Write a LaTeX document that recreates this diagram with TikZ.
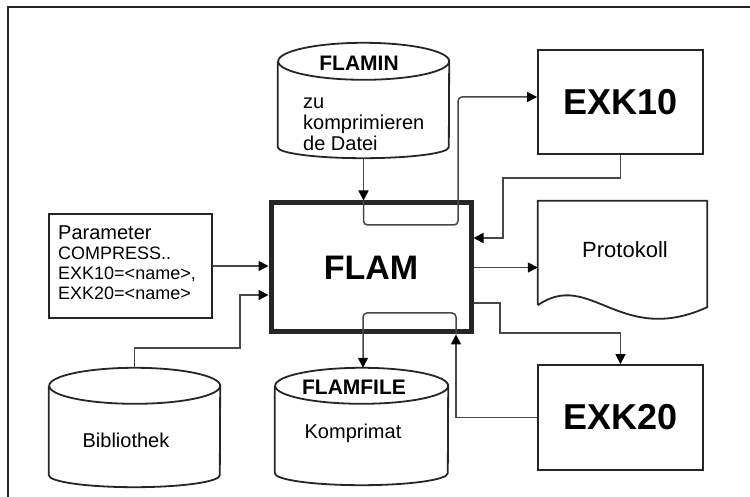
\documentclass[tikz,border=0pt]{standalone}
\usepackage{fontspec}
\setmainfont{Liberation Sans}
\usetikzlibrary{arrows.meta,positioning,calc}

% cylinder round a store node: node, half width, top radius, bottom radius
\newcommand{\drum}[4]{%
  \draw[boxline] ([yshift=-#3]#1.north west) -- ([yshift=#4]#1.south west)
    arc[start angle=180, end angle=360, x radius=#2, y radius=#4]
    -- ([yshift=-#3]#1.north east)
    arc[start angle=0, end angle=360, x radius=#2, y radius=#3];
}

\begin{document}
\begin{tikzpicture}[x=1pt, y=1pt,
    boxline/.style={draw=black!85, line width=1.8pt},
    block/.style={boxline, fill=white, inner sep=0pt, font=\bfseries\fontsize{36}{40}\selectfont},
    store/.style={inner sep=0pt},
    flow/.style={draw=black!72, line width=1.5pt, -{Triangle[length=10pt,width=10pt,color=black]}},
    txt/.style={font=\fontsize{20}{21}\selectfont, inner sep=0pt}]

    \useasboundingbox (0,0) rectangle (750,497);
    \clip (0,0) rectangle (750,497);

    % Frame
    \draw[black!85, line width=1.2pt] (8,-10) -- (8,490) -- (760,490);

    % Main program
    \node[block, line width=5pt, minimum width=200pt, minimum height=129pt,
          font=\bfseries\fontsize{34}{38}\selectfont] (flam) at (371,229.5) {FLAM};

    % Exits
    \node[block, minimum width=165pt, minimum height=104pt] (exk10) at (620.5,395) {EXK10};
    \node[block, minimum width=165pt, minimum height=105pt] (exk20) at (620.5,79.5) {EXK20};

    % Parameter
    \node[boxline, minimum width=163pt, minimum height=104pt] (param) at (130.5,231) {};
    \node[txt, anchor=north west, align=left, font=\fontsize{18}{20}\selectfont] (paramtext) at (58,271)
        {{\fontsize{20}{20}\selectfont Parameter}\\COMPRESS..\\EXK10=<name>,\\EXK20=<name>};

    % Protokoll
    \node[store, minimum width=169pt, minimum height=112pt] (proto) at (622.5,240) {};
    \draw[boxline] ([yshift=8pt]proto.south west) -- (proto.north west) -- (proto.north east)
        -- ([yshift=6pt]proto.south east) .. controls (620,150) and (590,228) .. ([yshift=8pt]proto.south west);
    \node[txt, font=\fontsize{22}{24}\selectfont] (prototext) at (625,247) {Protokoll};

    % Input file
    \node[store, minimum width=171pt, minimum height=115pt] (flamin) at (363.5,396.5) {};
    \drum{flamin}{85.5pt}{18.5pt}{11pt}
    \node[txt, font=\bfseries\fontsize{21}{24}\selectfont] (flamintitle) at (359,434) {FLAMIN};
    \node[txt, anchor=north west, align=left] (flamintext) at (303,399) {zu\\komprimieren\\de Datei};

    % Output file
    \node[store, minimum width=173pt, minimum height=117pt] (flamfile) at (361.5,70.5) {};
    \drum{flamfile}{86.5pt}{18pt}{12pt}
    \node[txt, font=\bfseries\fontsize{21}{24}\selectfont] (flamfiletitle) at (354,110) {FLAMFILE};
    \node[txt] (flamfiletext) at (353,64) {Komprimat};

    % Library
    \node[store, minimum width=171pt, minimum height=119pt] (bib) at (134.5,69.5) {};
    \drum{bib}{85.5pt}{18pt}{12pt}
    \node[txt] (bibtext) at (126,57) {Bibliothek};

    % Connectors
    \coordinate (tap) at (458,272);
    \coordinate (back10) at (503,319);
    \coordinate (out20) at (500,164);
    \coordinate (drop) at (363,184);
    \coordinate (lib) at (240,149);

    \draw[flow] (flamin.south) -- (flamin.south |- flam.north);
    \draw[flow, rounded corners=4pt] (flamin.south |- flam.north) |- (tap) |- ([yshift=5pt]exk10.west);
    \draw[flow] (exk10.south) |- (back10) |- ([yshift=29.5pt]flam.east);
    \draw[flow] (flam.east) -- (flam.east -| proto.west);
    \draw[flow] ([yshift=-35.5pt]flam.east) -| (out20) -| (exk20.north);
    \draw[flow] (exk20.west) -| ([xshift=85pt]flam.south);
    \draw[flow, rounded corners=4pt] ([xshift=85pt]flam.south) |- (drop) -- (drop |- flamfile.north);
    \draw[flow] (param.east) -- (param.east -| flam.west);
    \draw[flow] (bib.north) |- (lib) |- ([yshift=-27.5pt]flam.west);
\end{tikzpicture}
\end{document}
